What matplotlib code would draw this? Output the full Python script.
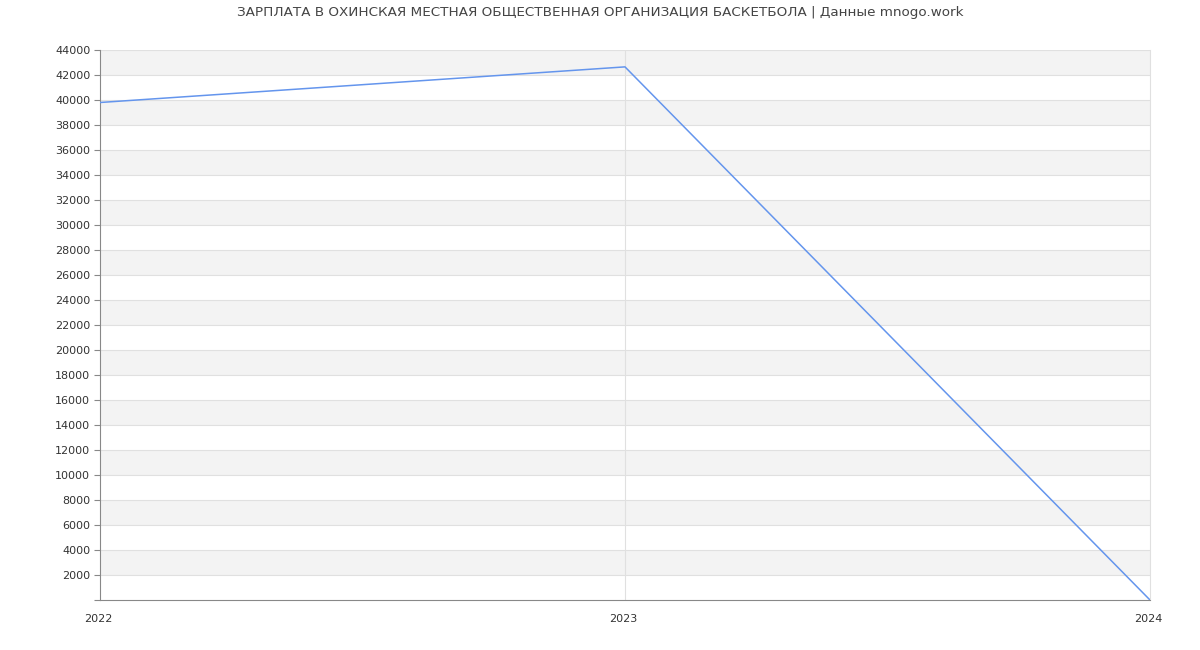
import matplotlib
matplotlib.use("Agg")
import matplotlib.pyplot as plt
from matplotlib.transforms import ScaledTranslation

years = [2022, 2023, 2024]
salaries = [39800, 42650, 0]
title = "ЗАРПЛАТА В ОХИНСКАЯ МЕСТНАЯ ОБЩЕСТВЕННАЯ ОРГАНИЗАЦИЯ БАСКЕТБОЛА | Данные mnogo.work"
y_ticks = list(range(2000, 44001, 2000))

fig = plt.figure(figsize=(12, 6.5), dpi=100)
ax = fig.add_axes([100/1200, 50/650, 1050/1200, 550/650])
ax.set_xlim(2022, 2024)
ax.set_ylim(0, 44000)

for lo in range(0, 44000, 2000):
    if (lo // 2000) % 2 == 1:
        ax.axhspan(lo, lo + 2000, color="#f3f3f3", zorder=0, lw=0)
for t in y_ticks:
    ax.axhline(t, color="#e0e0e0", lw=0.8, zorder=1)
ax.axvline(2023, color="#e0e0e0", lw=0.8, zorder=1)

ax.plot(years, salaries, color="#6495ed", lw=1.1, zorder=3)

ax.set_yticks([0] + y_ticks)
ax.set_yticklabels([""] + [str(t) for t in y_ticks])
ax.set_xticks(years)
ax.set_xticklabels([str(y) for y in years])
ax.tick_params(axis="y", labelsize=8, colors="#333333", length=4, color="#888888", pad=3)
ax.tick_params(axis="x", labelsize=8, colors="#333333", length=0, pad=10)
offset = ScaledTranslation(-2/100, 0, fig.dpi_scale_trans)
for lbl in ax.get_xticklabels():
    lbl.set_transform(lbl.get_transform() + offset)

ax.spines["top"].set_visible(False)
ax.spines["right"].set_color("#e0e0e0")
ax.spines["left"].set_color("#888888")
ax.spines["bottom"].set_color("#888888")

fig.text(0.5, 1 - 12.5/650, title, ha="center", va="center", fontsize=9.7, color="#444444")

fig.savefig("out.png", dpi=100)
